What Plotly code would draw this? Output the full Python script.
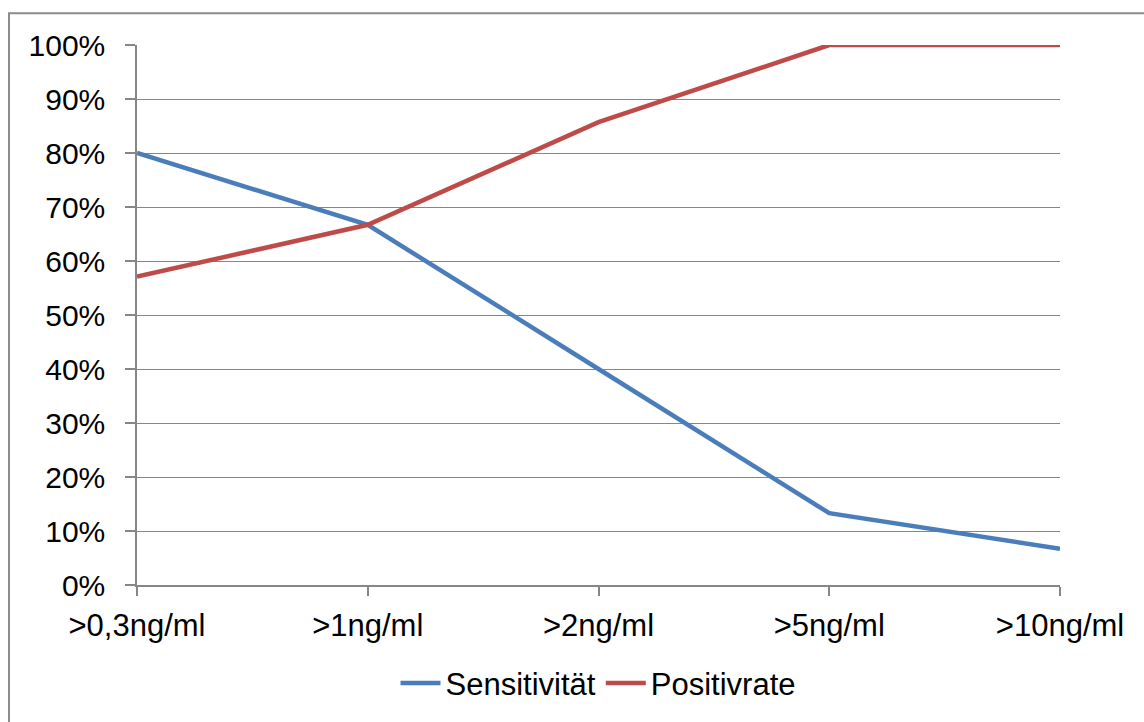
import plotly.graph_objects as go

categories = [">0,3ng/ml", ">1ng/ml", ">2ng/ml", ">5ng/ml", ">10ng/ml"]
sensitivitaet = [80.0, 66.7, 40.0, 13.3, 6.7]
positivrate = [57.1, 66.7, 85.7, 100.0, 100.0]
y_ticks = list(range(0, 101, 10))

W, H = 1144, 722
ml, mr, mt, mb = 137, 84, 45, 133
font = dict(family="Liberation Sans, Arial, sans-serif", size=30, color="#000000")

x_idx = list(range(len(categories)))

fig = go.Figure()
fig.add_trace(go.Scatter(x=x_idx, y=sensitivitaet, mode="lines", name="Sensitivität",
                         line=dict(color="#4A7EBB", width=4.5)))
fig.add_trace(go.Scatter(x=x_idx, y=positivrate, mode="lines", name="Positivrate",
                         line=dict(color="#BE4B48", width=4.5)))

pw = W - ml - mr
ph = H - mt - mb
fig.add_shape(type="rect", xref="paper", yref="paper",
              x0=(9 - ml) / pw, x1=(W + 10 - ml) / pw,
              y0=-(H + 10 - mt - ph) / ph, y1=1 + (mt - 13) / ph,
              line=dict(color="#8C8C8C", width=2), fillcolor="rgba(0,0,0,0)", layer="below")

fig.update_layout(
    width=W, height=H,
    margin=dict(l=ml, r=mr, t=mt, b=mb),
    paper_bgcolor="white", plot_bgcolor="white",
    font=font,
    showlegend=True,
    legend=dict(orientation="h", x=0.5, xanchor="center", y=-99 / ph, yanchor="middle",
                font=dict(size=31), itemwidth=40, traceorder="normal"),
    xaxis=dict(range=[0, 4], tickvals=x_idx, ticktext=categories, showgrid=False,
               showline=True, linecolor="#868686", linewidth=1.5,
               ticks="outside", ticklen=9, tickcolor="#868686", tickwidth=1.5,
               tickfont=dict(size=31), ticklabelstandoff=3,
               zeroline=False, fixedrange=True),
    yaxis=dict(range=[0, 100], tickvals=y_ticks, ticktext=[f"{v}%" for v in y_ticks],
               showgrid=True, gridcolor="#868686", gridwidth=1,
               showline=True, linecolor="#868686", linewidth=1.5,
               ticks="outside", ticklen=10, tickcolor="#868686", tickwidth=1.5,
               tickfont=dict(size=30), ticklabelstandoff=14,
               zeroline=False, fixedrange=True),
)

fig.write_html("out.html")
